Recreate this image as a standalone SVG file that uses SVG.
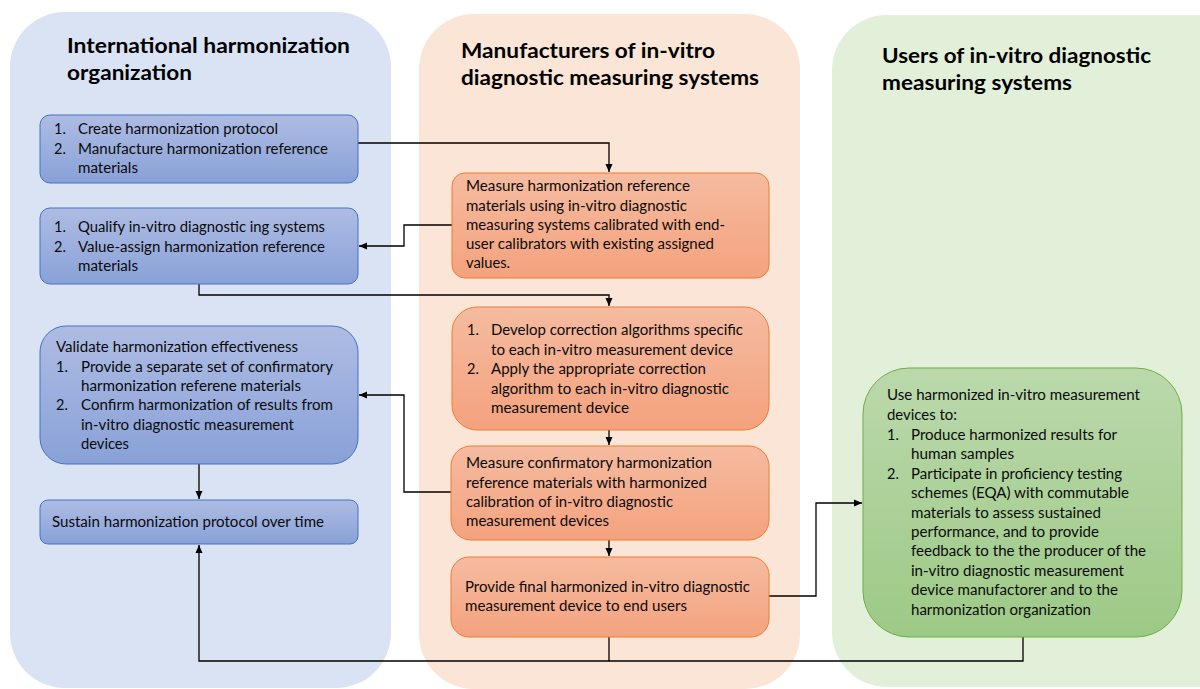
<svg xmlns="http://www.w3.org/2000/svg" width="1200" height="689" viewBox="0 0 1200 689">
  <defs>
    <linearGradient id="gBlue" x1="0" y1="0" x2="0" y2="1">
      <stop offset="0" stop-color="#AEBCE3"/>
      <stop offset="1" stop-color="#89A1D8"/>
    </linearGradient>
    <linearGradient id="gOrange" x1="0" y1="0" x2="0" y2="1">
      <stop offset="0" stop-color="#F5BBA0"/>
      <stop offset="1" stop-color="#F4A27E"/>
    </linearGradient>
    <linearGradient id="gGreen" x1="0" y1="0" x2="0" y2="1">
      <stop offset="0" stop-color="#BBD9AC"/>
      <stop offset="1" stop-color="#9DC986"/>
    </linearGradient>
    <marker id="arrow" markerUnits="userSpaceOnUse" markerWidth="9" markerHeight="8" refX="8" refY="4" orient="auto">
      <path d="M0,0.5 L8,4 L0,7.5 z" fill="#000"/>
    </marker>
    <style>
      .title { font-family: Lato, "Liberation Sans", sans-serif; font-weight: 700; font-size: 21.5px; fill: #000; }
      .body { font-family: Lato, "Liberation Sans", sans-serif; font-size: 14.5px; fill: #0A0A0A; }
      .blue { fill: url(#gBlue); stroke: #4472C4; stroke-width: 1; }
      .orange { fill: url(#gOrange); stroke: #ED7D31; stroke-width: 1; }
      .green { fill: url(#gGreen); stroke: #70AD47; stroke-width: 1; }
      .conn { fill: none; stroke: #000; stroke-width: 1.3; }
    </style>
  </defs>

  <rect width="1200" height="689" fill="#FFFFFF"/>

  <!-- swimlane backgrounds -->
  <g id="lane-organization">
    <rect x="10" y="12" width="381" height="676" rx="55" fill="#DAE3F3"/>
    <text class="title" x="67" y="53" textLength="283" lengthAdjust="spacingAndGlyphs">International harmonization</text>
    <text class="title" x="67" y="80" textLength="125" lengthAdjust="spacingAndGlyphs">organization</text>
  </g>
  <g id="lane-manufacturers">
    <rect x="419" y="14" width="381" height="675" rx="55" fill="#FBE5D6"/>
    <text class="title" x="461" y="58" textLength="254" lengthAdjust="spacingAndGlyphs">Manufacturers of in-vitro</text>
    <text class="title" x="461" y="85" textLength="298" lengthAdjust="spacingAndGlyphs">diagnostic measuring systems</text>
  </g>
  <g id="lane-users">
    <rect x="832" y="15" width="420" height="672" rx="55" fill="#E2F0D9"/>
    <text class="title" x="882" y="63" textLength="269" lengthAdjust="spacingAndGlyphs">Users of in-vitro diagnostic</text>
    <text class="title" x="882" y="90" textLength="190" lengthAdjust="spacingAndGlyphs">measuring systems</text>
  </g>

  <!-- connectors -->
  <g id="connectors">
    <path class="conn" d="M358,143 H609 V172" marker-end="url(#arrow)"/>
    <path class="conn" d="M452,225 H404 V246 H359" marker-end="url(#arrow)"/>
    <path class="conn" d="M199,284 V295 H609 V306" marker-end="url(#arrow)"/>
    <path class="conn" d="M609,430 V445" marker-end="url(#arrow)"/>
    <path class="conn" d="M451,492 H404 V395 H359" marker-end="url(#arrow)"/>
    <path class="conn" d="M199,464 V499" marker-end="url(#arrow)"/>
    <path class="conn" d="M609,540 V556" marker-end="url(#arrow)"/>
    <path class="conn" d="M769,596 H816 V503 H862" marker-end="url(#arrow)"/>
    <path class="conn" d="M1023,637 V661 H609"/>
    <path class="conn" d="M609,637 V661 H199 V545" marker-end="url(#arrow)"/>
  </g>

  <!-- organization nodes -->
  <g id="org-create">
    <rect class="blue" x="40" y="115" width="318" height="68" rx="10"/>
    <text class="body" x="54" y="134">1.</text>
    <text class="body" x="78" y="134" textLength="200" lengthAdjust="spacingAndGlyphs">Create harmonization protocol</text>
    <text class="body" x="54" y="154">2.</text>
    <text class="body" x="78" y="154" textLength="250" lengthAdjust="spacingAndGlyphs">Manufacture harmonization reference</text>
    <text class="body" x="78" y="173" textLength="60" lengthAdjust="spacingAndGlyphs">materials</text>
  </g>
  <g id="org-qualify">
    <rect class="blue" x="40" y="208" width="318" height="76" rx="10"/>
    <text class="body" x="54" y="232">1.</text>
    <text class="body" x="78" y="232" textLength="247" lengthAdjust="spacingAndGlyphs">Qualify in-vitro diagnostic ing systems</text>
    <text class="body" x="54" y="252">2.</text>
    <text class="body" x="78" y="252" textLength="247" lengthAdjust="spacingAndGlyphs">Value-assign harmonization reference</text>
    <text class="body" x="78" y="271" textLength="60" lengthAdjust="spacingAndGlyphs">materials</text>
  </g>
  <g id="org-validate">
    <rect class="blue" x="40" y="326" width="318" height="138" rx="26"/>
    <text class="body" x="56" y="352" textLength="242" lengthAdjust="spacingAndGlyphs">Validate harmonization effectiveness</text>
    <text class="body" x="56" y="372">1.</text>
    <text class="body" x="81" y="372" textLength="252" lengthAdjust="spacingAndGlyphs">Provide a separate set of confirmatory</text>
    <text class="body" x="81" y="391" textLength="220" lengthAdjust="spacingAndGlyphs">harmonization referene materials</text>
    <text class="body" x="56" y="410">2.</text>
    <text class="body" x="81" y="410" textLength="252" lengthAdjust="spacingAndGlyphs">Confirm harmonization of results from</text>
    <text class="body" x="81" y="430" textLength="213" lengthAdjust="spacingAndGlyphs">in-vitro diagnostic measurement</text>
    <text class="body" x="81" y="449" textLength="48" lengthAdjust="spacingAndGlyphs">devices</text>
  </g>
  <g id="org-sustain">
    <rect class="blue" x="40" y="500" width="318" height="44" rx="8"/>
    <text class="body" x="52" y="527" textLength="272" lengthAdjust="spacingAndGlyphs">Sustain harmonization protocol over time</text>
  </g>

  <!-- manufacturer nodes -->
  <g id="mfr-measure">
    <rect class="orange" x="452" y="173" width="317" height="105" rx="13"/>
    <text class="body" x="466" y="191" textLength="224" lengthAdjust="spacingAndGlyphs">Measure harmonization reference</text>
    <text class="body" x="466" y="210.5" textLength="221" lengthAdjust="spacingAndGlyphs">materials using in-vitro diagnostic</text>
    <text class="body" x="466" y="229.5" textLength="259" lengthAdjust="spacingAndGlyphs">measuring systems calibrated with end-</text>
    <text class="body" x="466" y="248.5" textLength="248" lengthAdjust="spacingAndGlyphs">user calibrators with existing assigned</text>
    <text class="body" x="466" y="268" textLength="44" lengthAdjust="spacingAndGlyphs">values.</text>
  </g>
  <g id="mfr-correct">
    <rect class="orange" x="452" y="307" width="317" height="123" rx="25"/>
    <text class="body" x="467" y="335">1.</text>
    <text class="body" x="491" y="335" textLength="252" lengthAdjust="spacingAndGlyphs">Develop correction algorithms specific</text>
    <text class="body" x="491" y="354.5" textLength="242" lengthAdjust="spacingAndGlyphs">to each in-vitro measurement device</text>
    <text class="body" x="467" y="374">2.</text>
    <text class="body" x="491" y="374" textLength="215" lengthAdjust="spacingAndGlyphs">Apply the appropriate correction</text>
    <text class="body" x="491" y="393.5" textLength="238" lengthAdjust="spacingAndGlyphs">algorithm to each in-vitro diagnostic</text>
    <text class="body" x="491" y="413" textLength="138" lengthAdjust="spacingAndGlyphs">measurement device</text>
  </g>
  <g id="mfr-confirm">
    <rect class="orange" x="451" y="446" width="318" height="94" rx="20"/>
    <text class="body" x="466" y="468" textLength="246" lengthAdjust="spacingAndGlyphs">Measure confirmatory harmonization</text>
    <text class="body" x="466" y="488" textLength="241" lengthAdjust="spacingAndGlyphs">reference materials with harmonized</text>
    <text class="body" x="466" y="507" textLength="207" lengthAdjust="spacingAndGlyphs">calibration of in-vitro diagnostic</text>
    <text class="body" x="466" y="526" textLength="143" lengthAdjust="spacingAndGlyphs">measurement devices</text>
  </g>
  <g id="mfr-provide">
    <rect class="orange" x="451" y="557" width="318" height="80" rx="18"/>
    <text class="body" x="465" y="592" textLength="285" lengthAdjust="spacingAndGlyphs">Provide final harmonized in-vitro diagnostic</text>
    <text class="body" x="465" y="611" textLength="222" lengthAdjust="spacingAndGlyphs">measurement device to end users</text>
  </g>

  <!-- user node -->
  <g id="user-use">
    <rect class="green" x="863" y="368" width="319" height="269" rx="46"/>
    <text class="body" x="887" y="400" textLength="253" lengthAdjust="spacingAndGlyphs">Use harmonized in-vitro measurement</text>
    <text class="body" x="887" y="420" textLength="70" lengthAdjust="spacingAndGlyphs">devices to:</text>
    <text class="body" x="887" y="440">1.</text>
    <text class="body" x="911" y="440" textLength="206" lengthAdjust="spacingAndGlyphs">Produce harmonized results for</text>
    <text class="body" x="911" y="459" textLength="103" lengthAdjust="spacingAndGlyphs">human samples</text>
    <text class="body" x="887" y="478.5">2.</text>
    <text class="body" x="911" y="478.5" textLength="211" lengthAdjust="spacingAndGlyphs">Participate in proficiency testing</text>
    <text class="body" x="911" y="498" textLength="218" lengthAdjust="spacingAndGlyphs">schemes (EQA) with commutable</text>
    <text class="body" x="911" y="517.5" textLength="190" lengthAdjust="spacingAndGlyphs">materials to assess sustained</text>
    <text class="body" x="911" y="537" textLength="188" lengthAdjust="spacingAndGlyphs">performance, and to provide</text>
    <text class="body" x="911" y="556" textLength="235" lengthAdjust="spacingAndGlyphs">feedback to the the producer of the</text>
    <text class="body" x="911" y="575.5" textLength="213" lengthAdjust="spacingAndGlyphs">in-vitro diagnostic measurement</text>
    <text class="body" x="911" y="595" textLength="207" lengthAdjust="spacingAndGlyphs">device manufactorer and to the</text>
    <text class="body" x="911" y="614.5" textLength="180" lengthAdjust="spacingAndGlyphs">harmonization organization</text>
  </g>
</svg>
